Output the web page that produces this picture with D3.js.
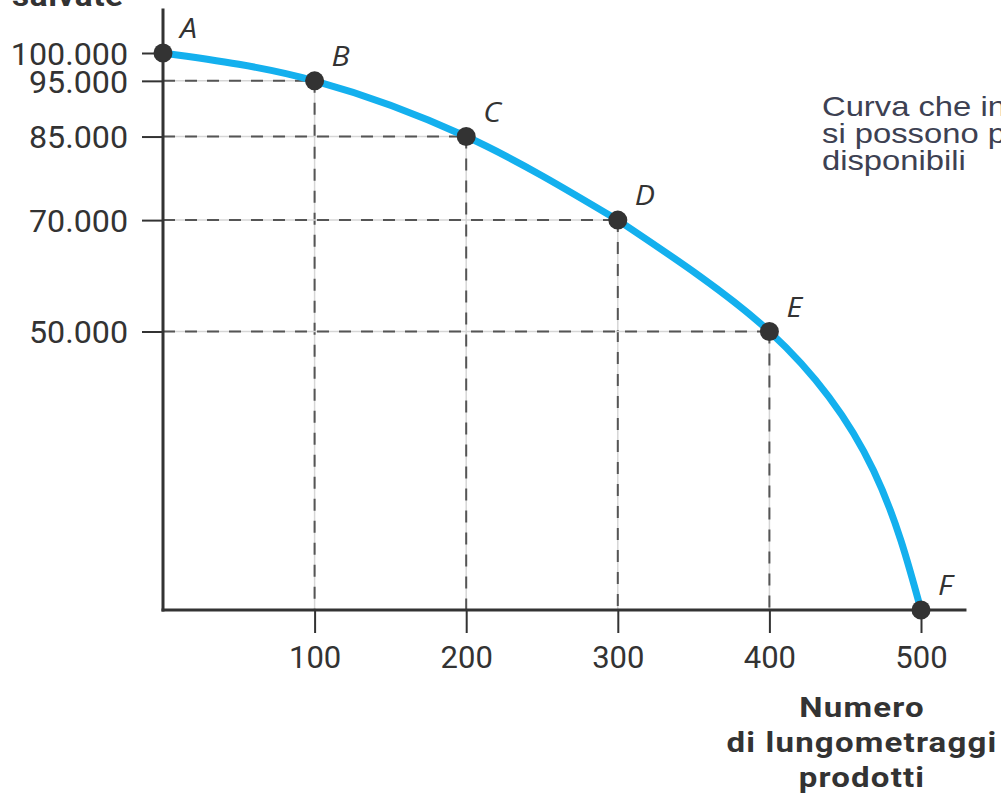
<!doctype html>
<meta charset="utf-8">
<script src="https://d3js.org/d3.v7.min.js"></script>
<style>
body{margin:0;background:#fff;overflow:hidden;}
</style>
<body>
</body>
<script>
//*****************
// data
var films = [0, 100, 200, 300, 400, 500];
var savings = [100000, 95000, 85000, 70000, 50000, 0];
var pointLabels = ["A", "B", "C", "D", "E", "F"];
var yTicks = [50000, 70000, 85000, 95000, 100000];
var xTicks = [100, 200, 300, 400, 500];
var xTitle = ["Numero", "di lungometraggi", "prodotti"];
var yTitle = "salvate";
var note = ["Curva che indica le combinazioni che", "si possono produrre con le risorse", "disponibili"];
//*****************

var width = 1001, height = 799;
var axisColor = "#333", blue = "#14b0ee";

var it = d3.formatLocale({decimal: ",", thousands: ".", grouping: [3], currency: ["€", ""]});
var fmt = it.format(",");

var svg = d3.select("body").append("svg").attr("width", width).attr("height", height);

var x = d3.scaleLinear().domain([0, 500]).range([163, 921]);
var y = d3.scaleLinear().domain([0, 100000]).range([610, 53]);

var pts = films.map(function(f, i){ return {x: f, y: savings[i], label: pointLabels[i]}; });

// dashed guides (light line + dark dashes)
var guides = svg.append("g");
pts.forEach(function(p){
  if(p.x > 0 && p.y > 0){
    [["#d6d6d6", null, 1.5], ["#555", "12,10", 2]].forEach(function(s){
      guides.append("line")
        .attr("x1", x(0)).attr("x2", x(p.x))
        .attr("y1", y(p.y)).attr("y2", y(p.y))
        .attr("stroke", s[0]).attr("stroke-width", s[2])
        .attr("stroke-dasharray", s[1]);
      guides.append("line")
        .attr("x1", x(p.x)).attr("x2", x(p.x))
        .attr("y1", y(p.y)).attr("y2", y(0))
        .attr("stroke", s[0]).attr("stroke-width", s[2])
        .attr("stroke-dasharray", s[1]);
    });
  }
});

// axes
var yAxis = svg.append("g")
  .attr("transform", "translate(" + x(0) + ",0)")
  .call(d3.axisLeft(y).tickValues(yTicks).tickFormat(fmt).tickSize(21).tickSizeOuter(0));
var xAxis = svg.append("g")
  .attr("transform", "translate(0," + y(0) + ")")
  .call(d3.axisBottom(x).tickValues(xTicks).tickSize(23).tickSizeOuter(0));

[yAxis, xAxis].forEach(function(a){
  a.select(".domain").remove();
  a.selectAll(".tick line").attr("stroke", axisColor).attr("stroke-width", 2);
  a.selectAll(".tick text")
    .attr("fill", "#333")
    .style("font-family", "Roboto, sans-serif")
    .style("font-size", "31px");
});
// y labels: right edge at 128px, a touch wider
yAxis.selectAll(".tick text").attr("x", 0).attr("dy", "0.36em")
  .attr("transform", "translate(-35,0) scale(1.04,1)");
xAxis.selectAll(".tick text").attr("y", 0).attr("dy", 0)
  .attr("transform", "translate(0,58)");

// axis lines
svg.append("line").attr("x1", x(0)).attr("x2", x(0))
  .attr("y1", y(108000)).attr("y2", y(0) + 1.5)
  .attr("stroke", axisColor).attr("stroke-width", 3);
svg.append("line").attr("x1", x(0) - 1.5).attr("x2", x(530))
  .attr("y1", y(0)).attr("y2", y(0))
  .attr("stroke", axisColor).attr("stroke-width", 3);

// curve: gentle part A..D follows x, steep part D..F follows y
var lineX = d3.line()
  .x(function(d){ return x(d.x); })
  .y(function(d){ return y(d.y); })
  .curve(d3.curveMonotoneX);
var lineY = d3.line()
  .x(function(d){ return x(d.x); })
  .y(function(d){ return y(d.y); })
  .curve(d3.curveMonotoneY);
svg.append("path").attr("d", lineX(pts.slice(0, 4)))
  .attr("fill", "none").attr("stroke", blue).attr("stroke-width", 7);
svg.append("path").attr("d", lineY(pts.slice(3)))
  .attr("fill", "none").attr("stroke", blue).attr("stroke-width", 7);

// points
svg.selectAll(".pt").data(pts).enter().append("circle")
  .attr("class", "pt")
  .attr("cx", function(d){ return x(d.x); })
  .attr("cy", function(d){ return y(d.y); })
  .attr("r", 9.5).attr("fill", "#333");

svg.selectAll(".lab").data(pts).enter().append("text")
  .attr("class", "lab")
  .attr("transform", function(d){ return "translate(" + (x(d.x) + 17) + "," + (y(d.y) - 15) + ") scale(1.12,1)"; })
  .attr("fill", "#333")
  .style("font-family", "'Open Sans', sans-serif")
  .style("font-style", "italic")
  .style("font-size", "27px")
  .text(function(d){ return d.label; });

// axis titles
svg.append("text")
  .attr("transform", "translate(12,6) scale(1.15,1)")
  .attr("fill", "#333")
  .style("font-family", "Roboto, sans-serif").style("font-weight", "bold").style("font-size", "29px")
  .style("letter-spacing", "0.5px")
  .text(yTitle);

svg.selectAll(".xt").data(xTitle).enter().append("text")
  .attr("class", "xt")
  .attr("transform", function(d, i){ return "translate(862," + (717 + i * 35) + ") scale(1.18,1)"; })
  .attr("text-anchor", "middle")
  .attr("fill", "#333")
  .style("font-family", "Roboto, sans-serif").style("font-weight", "bold").style("font-size", "28px")
  .style("letter-spacing", "1px")
  .text(function(d){ return d; });

// side note (cut at the right edge)
svg.selectAll(".note").data(note).enter().append("text")
  .attr("class", "note")
  .attr("transform", function(d, i){ return "translate(822," + (116 + i * 27) + ") scale(1.17,1)"; })
  .attr("fill", "#3d4152")
  .style("font-family", "'Liberation Sans', Arial, sans-serif").style("font-size", "28px")
  .text(function(d){ return d; });
</script>
